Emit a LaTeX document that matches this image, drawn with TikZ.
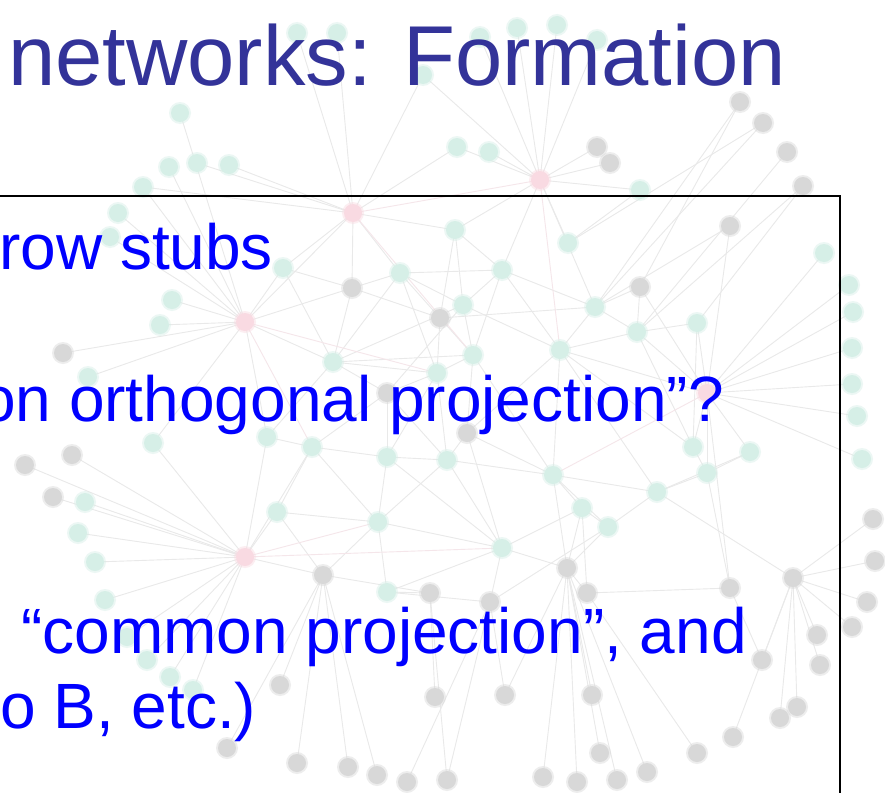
\documentclass[tikz,border=0pt]{standalone}
\usepackage{fontspec}
\setmainfont{Liberation Sans}
\definecolor{titleblue}{HTML}{333399}
\definecolor{bodyblue}{HTML}{0000FF}
\definecolor{tealnode}{HTML}{D6EFE7}
\definecolor{graynode}{HTML}{D8D8D8}
\definecolor{pinknode}{HTML}{F9DAE2}
\definecolor{edgegray}{HTML}{E9E9E9}
\definecolor{edgepink}{HTML}{F5E6EA}
\tikzset{
  netedge/.style={draw=edgegray, line width=0.9pt},
  pinkedge/.style={draw=edgepink, line width=0.9pt},
  tealdot/.style={fill=tealnode},
  graydot/.style={fill=graynode},
  pinkdot/.style={fill=pinknode},
  halo/.style={fill opacity=0.45},
  titletext/.style={anchor=base west, inner sep=0pt, text=titleblue, font=\fontsize{85}{90}\selectfont},
  bodytext/.style={anchor=base west, inner sep=0pt, text=bodyblue, font=\fontsize{64}{70}\selectfont},
  framebox/.style={draw=black, line width=2pt}
}
\begin{document}
\begin{tikzpicture}[x=1pt,y=-1pt]
\useasboundingbox (0,0) rectangle (885,792);
\clip (0,0) rectangle (885,792);
\fill[white] (0,0) rectangle (885,792);
% ---- network coordinates ----
\foreach \n/\x/\y in {t1/297/33,t2/337/33,t3/480/37,t4/517/28,t5/557/25,t6/597/40,t7/423/75,t8/180/113,t9/457/147,t10/489/152,t11/169/167,t12/197/163,t13/229/165,t14/143/187,t15/640/190,t16/118/213,t17/110/237,t18/283/268,t19/172/300,t20/160/325,t21/333/362,t22/88/377,t23/400/273,t24/455/230,t25/568/243,t26/502/270,t27/463/305,t28/595/307,t29/637/332,t30/697/323,t31/473/355,t32/560/350,t33/437/373,t34/824/253,t35/849/285,t36/853/312,t37/852/348,t38/852/384,t39/857/416,t40/862/459,t41/750/452,t42/693/447,t43/707/473,t44/447/460,t45/153/443,t46/267/437,t47/312/447,t48/387/457,t49/85/502,t50/78/533,t51/95/562,t52/105/600,t53/277/512,t54/378/522,t55/387/592,t56/147/660,t57/170/677,t58/193/690,t59/127/637,t60/553/475,t61/582/508,t62/608/527,t63/657/492,t64/502/548}
  \coordinate (\n) at (\x,\y);
\foreach \n/\x/\y in {g1/740/102,g2/763/123,g3/787/152,g4/803/186,g5/597/147,g6/610/163,g7/730/226,g8/352/288,g9/440/318,g10/63/353,g11/640/287,g12/387/393,g13/72/455,g14/25/465,g15/467/433,g16/53/497,g17/323/575,g18/430/593,g19/280/685,g20/435/697,g21/227/748,g22/297/763,g23/348/767,g24/377/775,g25/407/782,g26/447/780,g27/567/568,g28/587/593,g29/490/602,g30/730/588,g31/793/578,g32/817/635,g33/820/665,g34/762/660,g35/873/519,g36/875/561,g37/867/602,g38/852/627,g39/505/695,g40/592/695,g41/780/718,g42/797/707,g43/733/737,g44/697/753,g45/600/753,g46/647/772,g47/617/780,g48/577/782,g49/543/777}
  \coordinate (\n) at (\x,\y);
\foreach \n/\x/\y in {p1/353/213,p2/540/180,p3/245/322,p4/245/557,p5/707/393}
  \coordinate (\n) at (\x,\y);
% ---- edges ----
\foreach \a/\b in {p1/t1,p1/t2,p1/t7,p1/t12,p1/t13,p1/t18,p1/t23,p1/t24,p1/g8,p1/p3,p1/t9,p1/t14,
  p2/t3,p2/t4,p2/t5,p2/t6,p2/t9,p2/t10,p2/g5,p2/g6,p2/t15,p2/t25,p2/t26,p2/t24,p2/t28,p2/t7,
  p3/t11,p3/t16,p3/t17,p3/t19,p3/t20,p3/t22,p3/g10,p3/t18,p3/t21,p3/t45,p3/t46,p3/g8,p3/t8,p3/t14,
  p4/t49,p4/t50,p4/t51,p4/t52,p4/t59,p4/t56,p4/t57,p4/t58,p4/g16,p4/t53,p4/g17,p4/t46,p4/t47,p4/t45,p4/g13,p4/g14,
  p5/t34,p5/t35,p5/t36,p5/t37,p5/t38,p5/t39,p5/t40,p5/t41,p5/t42,p5/t43,p5/t30,p5/g7,p5/t29,p5/g30,p5/g11,p5/t32,
  g17/g19,g17/g21,g17/g22,g17/g23,g17/g24,g17/t53,g17/t54,g17/g18,
  g27/g39,g27/g40,g27/g45,g27/g46,g27/g47,g27/g48,g27/g49,g27/t62,g27/g28,
  g28/g30,g28/g44,g29/g26,g29/g25,g29/g39,g18/g20,g18/g26,
  g31/g35,g31/g36,g31/g37,g31/g38,g31/g32,g31/g33,g31/g34,g31/g41,g31/g42,g31/g43,g31/t63,
  t28/g1,t28/g2,t29/g3,t29/g4,g11/g1,t25/g2,t30/g4,t28/g7,t25/t15,
  t21/t23,t21/t27,t21/t33,t21/g12,t23/t26,t23/t27,t23/g9,t26/t27,t26/t28,t26/t31,t27/t31,t27/t32,t28/t32,t28/t29,
  t29/t30,t29/t32,t31/t33,t31/g15,t32/t60,t32/g15,t33/g12,t33/t44,g9/t31,g9/t33,g11/t29,g11/t28,
  g12/t47,g12/t48,t44/t48,t44/t60,t44/t64,g15/t44,g15/t60,t47/t48,t47/t53,t48/t54,t54/t55,t54/t64,t55/g18,t55/t64,
  t60/t61,t60/t63,t61/t62,t61/t64,t62/t63,t63/t43,t63/t41,t64/g27,t64/g29,t60/g27,t55/g29,
  t46/t47,t46/t21,t53/t54,t18/t21,t18/g8,g8/t23,g8/t21,t24/t26,t24/g9,t32/t42,t42/t43,t41/t43,t61/g27,
  g30/g34,g30/t43,g29/t62,g28/t61,
  t21/t31,t23/t33,g8/g9,t27/g12,t26/t32,t33/t48,g12/t44,t31/t60,t32/t63,t47/t54,t48/t64,t60/t62,g9/t28,t24/t27,t29/t42,t30/t42,g15/t64,t44/t54}
  \draw[netedge] (\a) -- (\b);
\foreach \a/\b in {p1/t31,p3/t33,p4/t54,p5/t60,p2/t32,p1/p2,p3/t47,p4/t64}
  \draw[pinkedge] (\a) -- (\b);
% ---- dots ----
\foreach \n in {t1,t2,t3,t4,t5,t6,t7,t8,t9,t10,t11,t12,t13,t14,t15,t16,t17,t18,t19,t20,t21,t22,t23,t24,t25,t26,t27,t28,t29,t30,t31,t32,t33,t34,t35,t36,t37,t38,t39,t40,t41,t42,t43,t44,t45,t46,t47,t48,t49,t50,t51,t52,t53,t54,t55,t56,t57,t58,t59,t60,t61,t62,t63,t64}
  {\fill[tealdot,halo] (\n) circle (11); \fill[tealdot] (\n) circle (9);}
\foreach \n in {g1,g2,g3,g4,g5,g6,g7,g8,g9,g10,g11,g12,g13,g14,g15,g16,g17,g18,g19,g20,g21,g22,g23,g24,g25,g26,g27,g28,g29,g30,g31,g32,g33,g34,g35,g36,g37,g38,g39,g40,g41,g42,g43,g44,g45,g46,g47,g48,g49}
  {\fill[graydot,halo] (\n) circle (11); \fill[graydot] (\n) circle (9);}
\foreach \n in {p1,p2,p3,p4,p5}
  {\fill[pinkdot,halo] (\n) circle (11); \fill[pinkdot] (\n) circle (9);}
% ---- frame ----
\draw[framebox] (-10,196) rectangle (840,810);
% ---- texts ----
\node[titletext] (title) at (8,85) {networks: Formation};
\node[bodytext] (l1) at (-1,269) {row stubs};
\node[bodytext] (l2) at (-20,421) {on orthogonal projection”?};
\node[bodytext] (l3) at (21,653) {“common projection”, and};
\node[bodytext] (l4) at (0,728) {o B, etc.)};
\end{tikzpicture}
\end{document}
